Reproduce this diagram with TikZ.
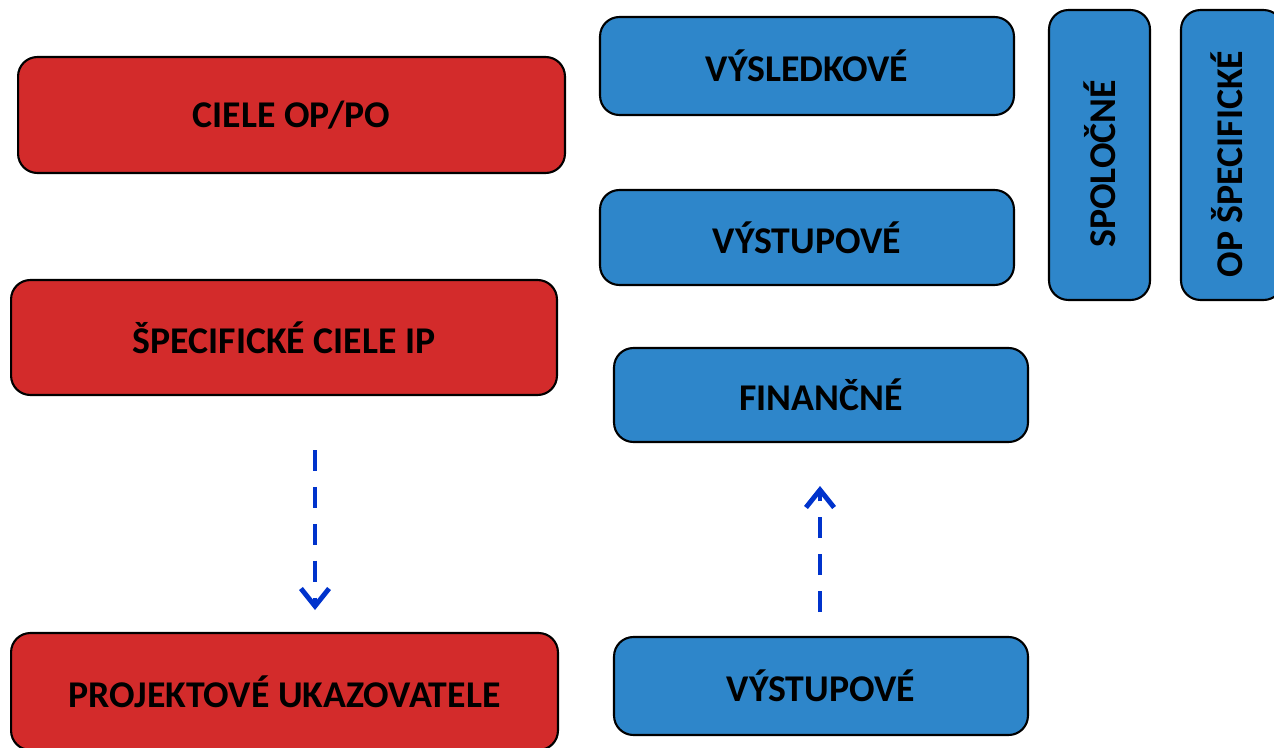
\documentclass[tikz,border=0pt]{standalone}
\usepackage{fontspec}
\setmainfont{Carlito}
\usetikzlibrary{arrows.meta,positioning}
\definecolor{goalred}{RGB}{211,43,43}
\definecolor{indblue}{RGB}{46,134,202}
\definecolor{flowblue}{RGB}{0,51,204}
\tikzset{
    boxfont/.style={font=\fontsize{21.5}{25}\selectfont\bfseries, text=black},
    box/.style={draw=black, line width=1.2pt, rounded corners=11pt, align=center, boxfont},
    goal/.style={box, fill=goalred},
    ind/.style={box, fill=indblue},
    flow/.style={flowblue, line width=2.8pt, dash pattern=on 12pt off 9pt,
        -{Straight Barb[length=10pt,width=16pt,line width=2.8pt]}}
}

\begin{document}
\begin{tikzpicture}[x=0.02cm, y=-0.02cm]
    % Frame
    \useasboundingbox (0,0) rectangle (1274,747);

    % Left column: goals
    \node[goal, minimum width=10.94cm, minimum height=2.32cm] (ciele) at (291.5,115) {CIELE OP/PO};
    \node[goal, minimum width=10.92cm, minimum height=2.30cm] (specif) at (284,337.5) {ŠPECIFICKÉ CIELE IP};
    \node[goal, minimum width=10.94cm, minimum height=2.34cm] (projekt) at (284.5,691.5) {PROJEKTOVÉ UKAZOVATELE};

    % Middle column: indicators
    \node[ind, minimum width=8.28cm, minimum height=1.96cm] (vysledok) at (807,66) {VÝSLEDKOVÉ};
    \node[ind, minimum width=8.28cm, minimum height=1.90cm] (vystup) at (807,237.5) {VÝSTUPOVÉ};
    \node[ind, minimum width=8.28cm, minimum height=1.88cm] (financ) at (821,395) {FINANČNÉ};
    \node[ind, minimum width=8.28cm, minimum height=1.96cm] (vystupdole) at (821,686) {VÝSTUPOVÉ};

    % Right: vertical boxes
    \node[ind, minimum width=2.02cm, minimum height=5.80cm] (spolocne) at (1099.5,155) {};
    \node[boxfont, rotate=90] (spolocnetext) at ([yshift=-0.18cm]spolocne.center) {SPOLOČNÉ};
    \node[ind, minimum width=2.04cm, minimum height=5.80cm] (opspec) at (1232,155) {};
    \node[boxfont, rotate=90] (opspectext) at ([xshift=-0.1cm,yshift=-0.18cm]opspec.center) {OP ŠPECIFICKÉ};

    % Dashed arrows
    \coordinate (downtop) at (315,450);
    \coordinate (downend) at (315,610);
    \draw[flow] (downtop) -- (downend);
    \coordinate (upbottom) at (820,612);
    \coordinate (upend) at (820,486);
    \draw[flow] (upbottom) -- (upend);
\end{tikzpicture}
\end{document}
